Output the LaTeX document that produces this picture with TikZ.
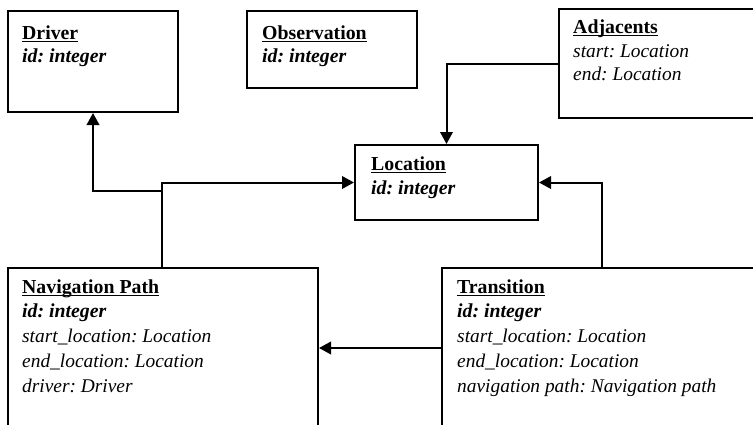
\documentclass[tikz,border=0pt]{standalone}
\usepackage{fontspec}
\setmainfont{Liberation Serif}
\usetikzlibrary{arrows.meta,calc}
\frenchspacing
\newcommand{\ulttl}[1]{\setbox0\hbox{#1}\rlap{\rule[-3.4pt]{\wd0}{1.3pt}}\box0}
\begin{document}
\begin{tikzpicture}[x=1pt,y=-1pt,
  box/.style={draw, line width=2pt, anchor=north west, inner sep=0pt},
  lbl/.style={anchor=base west, inner sep=0pt},
  ttl/.style={lbl, font=\fontsize{19.8}{24}\selectfont\bfseries},
  bid/.style={lbl, font=\fontsize{19.8}{24}\selectfont\bfseries\itshape},
  att/.style={lbl, font=\fontsize{19.4}{24}\selectfont\itshape},
  conn/.style={line width=2pt, -{Triangle[length=12pt,width=12.5pt]}}]
\fill[white] (0,0) rectangle (753,424);
\clip (0,0) rectangle (753,424);
% boxes
\node[box, minimum width=170pt, minimum height=101pt] (drv) at (7,10) {};
\node[box, minimum width=170pt, minimum height=77pt] (obs) at (246,10) {};
\node[box, minimum width=220pt, minimum height=109pt] (adj) at (558,8) {};
\node[box, minimum width=183pt, minimum height=75pt] (loc) at (354,144) {};
\node[box, minimum width=310pt, minimum height=162pt] (nav) at (7,267) {};
\node[box, minimum width=330pt, minimum height=162pt] (trn) at (441,267) {};
% texts
\node[ttl] (drvT) at (22,39) {\ulttl{Driver}};
\node[bid] (drvA) at (22,62) {id: integer};
\node[ttl] (obsT) at (262,39) {\ulttl{Observation}};
\node[bid] (obsA) at (262,62) {id: integer};
\node[ttl] (adjT) at (573,33) {\ulttl{Adjacents}};
\node[att] (adjA) at (573,57) {start: Location};
\node[att] (adjB) at (573,80) {end: Location};
\node[ttl] (locT) at (371,170) {\ulttl{Location}};
\node[bid] (locA) at (371,194) {id: integer};
\node[ttl] (navT) at (22,293) {\ulttl{Navigation Path}};
\node[bid] (navA) at (22,317) {id: integer};
\node[att] (navB) at (22,342) {start\_location: Location};
\node[att] (navC) at (22,367) {end\_location: Location};
\node[att] (navD) at (22,392) {driver: Driver};
\node[ttl] (trnT) at (457,293) {\ulttl{Transition}};
\node[bid] (trnA) at (457,317) {id: integer};
\node[att] (trnB) at (457,342) {start\_location: Location};
\node[att] (trnC) at (457,367) {end\_location: Location};
\node[att] (trnD) at (457,392) {navigation path: Navigation path};
% connector anchor points
\coordinate (navUp) at (162,267);
\coordinate (brk) at (162,191);
\coordinate (trnUp) at (602,267);
\coordinate (trnL) at (441,348);
% connectors
\draw[conn] (navUp) |- (loc.west);
\draw[conn] (brk) -| (drv.south);
\draw[conn] (adj.west) -| (loc.north);
\draw[conn] (trnUp) |- (loc.east);
\draw[conn] (trnL) -- (nav.east |- trnL);
\end{tikzpicture}
\end{document}
